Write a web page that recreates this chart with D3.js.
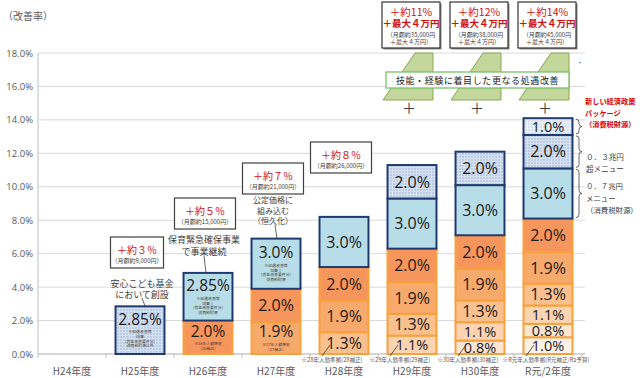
<!DOCTYPE html>
<html><head><meta charset="utf-8">
<script src="https://cdn.jsdelivr.net/npm/d3@7"></script>
<style>body{margin:0;background:#fff}svg{display:block}</style></head>
<body><svg id="c" width="640" height="378"></svg>
<script>
// ---------- data ----------
const categories = ["H24年度","H25年度","H26年度","H27年度","H28年度","H29年度","H30年度","R元/2年度"];
const rR     = [0,0,0,0,0,0,0,1.0];
const r30    = [0,0,0,0,0,0,0.8,0.8];
const r29    = [0,0,0,0,0,1.1,1.1,1.1];
const r28    = [0,0,0,0,1.3,1.3,1.3,1.3];
const r27    = [0,0,0,1.9,1.9,1.9,1.9,1.9];
const r26    = [0,0,2.0,2.0,2.0,2.0,2.0,2.0];
const kikin  = [0,2.85,0,0,0,0,0,0];
const kasan1 = [0,0,2.85,3.0,3.0,3.0,3.0,3.0];
const menu03 = [0,0,0,0,0,2.0,2.0,2.0];
const pkg    = [0,0,0,0,0,0,0,1.0];
const yTicks = [0,2,4,6,8,10,12,14,16,18];
const incLabels = ["","＋約３％","＋約５％","＋約７％","＋約８％","＋約11%","＋約12%","＋約14%"];
const monthly   = ["","（月額約9,000円）","（月額約15,000円）","（月額約21,000円）","（月額約26,000円）","（月額約35,000円","（月額約38,000円","（月額約45,000円"];
const extraLabel = "＋最大４万円";
const extraSub = "＋最大４万円）";
const bottomNotes = {"H28年度":"※28年人勤準拠(28補正)","H29年度":"※29年人勤準拠(29補正)","H30年度":"※30年人勤準拠(30補正)","R元/2年度":"※R元年人勤準拠(R元補正/R2予算)"};

const seriesDefs = [
  {key:"rR", vals:rR, fill:"#FEF2E8", kind:"o"},
  {key:"r30", vals:r30, fill:"#FDE5D3", kind:"o"},
  {key:"r29", vals:r29, fill:"#FCD4B2", kind:"o"},
  {key:"r28", vals:r28, fill:"#FAC08E", kind:"o"},
  {key:"r27", vals:r27, fill:"#F8A96C", kind:"o"},
  {key:"r26", vals:r26, fill:"#F7965C", kind:"o"},
  {key:"kikin", vals:kikin, fill:"url(#dotsK)", kind:"b"},
  {key:"kasan1", vals:kasan1, fill:"#B7DDE8", kind:"b"},
  {key:"menu03", vals:menu03, fill:"url(#dots2)", kind:"b"},
  {key:"pkg", vals:pkg, fill:"url(#dots1)", kind:"b"}
];
const notes = {
  "kikin|H25年度":["※処遇改善等","加算","（賃金改善要件分）","消費税財源以外"],
  "kasan1|H26年度":["※処遇改善等","加算Ⅰ","（賃金改善要件分）","消費税財源"],
  "kasan1|H27年度":["※処遇改善等","加算Ⅰ","（賃金改善要件分）","消費税財源"],
  "r26|H26年度":["※26年人勤準拠","（26補正）"],
  "r27|H27年度":["※27年人勤準拠","（27補正）"]
};

// ---------- setup ----------
const JP = "'Noto Sans CJK JP','Noto Sans',sans-serif";
const NUM = "'Open Sans','Liberation Sans',sans-serif";
const svg = d3.select("#c");
const defs = svg.append("defs");
function dotPat(id, base, dot){
  const p = defs.append("pattern").attr("id",id).attr("width",3).attr("height",3).attr("patternUnits","userSpaceOnUse");
  p.append("rect").attr("width",3).attr("height",3).attr("fill",base);
  p.append("circle").attr("cx",1).attr("cy",1).attr("r",0.65).attr("fill",dot);
}
dotPat("dotsK","#D3E2F3","#8DA7D2");
dotPat("dots2","#D6E2F1","#8AA3CF");
dotPat("dots1","#EFF4FB","#A9BEDF");

const x = d3.scaleBand().domain(categories).range([38,582]).paddingInner(0.28).paddingOuter(0.14);
const y = d3.scaleLinear().domain([0,18]).range([354,53]);
const cx = c => x(c) + x.bandwidth()/2;

// gridlines
svg.append("g").selectAll("line").data(yTicks).join("line")
  .attr("x1",38).attr("x2",585).attr("y1",d=>y(d)).attr("y2",d=>y(d))
  .attr("stroke","#D9D9D9").attr("stroke-width",1);
// axes
svg.append("line").attr("x1",38).attr("x2",38).attr("y1",y(18)).attr("y2",y(0)).attr("stroke","#BFBFBF");
svg.append("line").attr("x1",38).attr("x2",585).attr("y1",y(0)).attr("y2",y(0)).attr("stroke","#BFBFBF");
svg.append("g").selectAll("text").data(yTicks).join("text")
  .attr("x",33).attr("y",d=>y(d)+3.5).attr("text-anchor","end")
  .attr("font-family",NUM).attr("font-size",9.5).attr("fill","#595959")
  .text(d=>d3.format(".1f")(d)+"%");
const step = x.step();
svg.append("g").selectAll("line").data(d3.range(categories.length+1)).join("line")
  .attr("x1",i=>38+i*step).attr("x2",i=>38+i*step).attr("y1",y(0)).attr("y2",y(0)+4)
  .attr("stroke","#BFBFBF");
svg.append("g").selectAll("text").data(categories).join("text")
  .attr("x",d=>cx(d)).attr("y",375).attr("text-anchor","middle")
  .attr("font-family",JP).attr("font-size",10).attr("fill","#595959").text(d=>d);
svg.append("text").attr("x",3).attr("y",20).attr("font-family",JP).attr("font-size",10).attr("fill","#595959").text("（改善率）");

// ---------- stacked bars ----------
const table = categories.map((c,i)=>{const o={cat:c}; seriesDefs.forEach(s=>o[s.key]=s.vals[i]); return o;});
const stack = d3.stack().keys(seriesDefs.map(s=>s.key))(table);
const gBars = svg.append("g");
const drawOrder = [...stack.filter((s,i)=>seriesDefs[i].kind==="o"), ...stack.filter((s,i)=>seriesDefs[i].kind==="b")];
drawOrder.forEach(layer=>{
  const def = seriesDefs.find(s=>s.key===layer.key);
  gBars.append("g").selectAll("rect").data(layer.filter(d=>d[1]-d[0]>0)).join("rect")
    .attr("x",d=>x(d.data.cat)).attr("width",x.bandwidth())
    .attr("y",d=>y(d[1])).attr("height",d=>y(d[0])-y(d[1]))
    .attr("fill",def.fill)
    .attr("stroke",def.kind==="o"?"#F7A13C":"#1F3A6E").attr("stroke-width",2);
});
// segment labels
stack.forEach(layer=>{
  layer.forEach(d=>{
    const v = d.data[layer.key]; if(v<=0) return;
    const c = d.data.cat, top = y(d[1]), h = y(d[0])-y(d[1]);
    const nt = notes[layer.key+"|"+c];
    const fs = v>=1.3?16:14.5;
    const lbl = (v===2.85?"2.85":v.toFixed(1))+"%";
    if(nt){
      const block = 17 + nt.length*4.7;
      const base = top + (h-block)/2 + 12.5;
      gBars.append("text").attr("x",cx(c)).attr("y",base).attr("text-anchor","middle")
        .attr("font-family",NUM).attr("font-size",15.5).attr("fill","#1a1a1a").text(lbl);
      nt.forEach((t,k)=>gBars.append("text").attr("x",cx(c)).attr("y",base+8.5+k*4.7).attr("text-anchor","middle")
        .attr("font-family",JP).attr("font-size",3.9).attr("fill","#404040").text(t));
    } else {
      gBars.append("text").attr("x",cx(c)).attr("y",top+h/2+fs*0.36).attr("text-anchor","middle")
        .attr("font-family",NUM).attr("font-size",fs).attr("fill","#1a1a1a").text(lbl);
    }
  });
});

// bottom notes with leaders
const gN = svg.append("g");
Object.entries(bottomNotes).forEach(([c,t])=>{
  const lc = cx(c) - (c==="R元/2年度"?2:12);
  gN.append("text").attr("x",lc).attr("y",362).attr("text-anchor","middle")
    .attr("font-family",JP).attr("font-size",5.6).attr("fill","#595959").text(t);
  gN.append("line").attr("x1",cx(c)-22).attr("y1",356).attr("x2",cx(c)-14).attr("y2",345)
    .attr("stroke","#333").attr("stroke-width",0.8);
});

// ---------- increment boxes ----------
const gA = svg.append("g");
const lowBoxTop = {"H25年度":237,"H26年度":198,"H27年度":163,"H28年度":142};
Object.entries(lowBoxTop).forEach(([c,t])=>{
  const i = categories.indexOf(c), bx = cx(c)-3, w = c==="H25年度"?53:61;
  gA.append("rect").attr("x",bx-w/2).attr("y",t).attr("width",w).attr("height",31)
    .attr("fill","#fff").attr("stroke","#404040").attr("stroke-width",1.2);
  gA.append("text").attr("x",bx).attr("y",t+17).attr("text-anchor","middle").attr("font-family",JP)
    .attr("font-size",10).attr("fill","#D01010").text(incLabels[i]);
  gA.append("text").attr("x",bx).attr("y",t+26).attr("text-anchor","middle").attr("font-family",JP)
    .attr("font-size",6).attr("fill","#404040").text(monthly[i]);
});
["H29年度","H30年度","R元/2年度"].forEach(c=>{
  const i = categories.indexOf(c), bx = cx(c)-1, w = 58;
  gA.append("rect").attr("x",bx-w/2+1.5).attr("y",3.5).attr("width",w).attr("height",46).attr("fill","#8c8c8c");
  gA.append("rect").attr("x",bx-w/2).attr("y",2).attr("width",w).attr("height",46)
    .attr("fill","#fff").attr("stroke","#333").attr("stroke-width",1.2);
  gA.append("text").attr("x",bx).attr("y",15.5).attr("text-anchor","middle").attr("font-family",JP)
    .attr("font-size",10.5).attr("fill","#D01010").text(incLabels[i]);
  gA.append("text").attr("x",bx).attr("y",27).attr("text-anchor","middle").attr("font-family",JP)
    .attr("font-size",9.5).attr("font-weight","bold").attr("fill","#D01010").text(extraLabel);
  gA.append("text").attr("x",bx).attr("y",36.5).attr("text-anchor","middle").attr("font-family",JP)
    .attr("font-size",6).attr("fill","#404040").text(monthly[i]);
  gA.append("text").attr("x",bx).attr("y",44.2).attr("text-anchor","middle").attr("font-family",JP)
    .attr("font-size",6).attr("fill","#404040").text(extraSub);
  const c0 = cx(c);
  gA.append("path").attr("d",`M${c0+3},53 L${c0+21},53 L${c0+21},100 L${c0-29},100 Z`)
    .attr("fill","#C3D69B").attr("stroke","#8AA650").attr("stroke-width",1);
  gA.append("text").attr("x",c0-3).attr("y",113).attr("text-anchor","middle").attr("font-family",JP)
    .attr("font-size",14).attr("fill","#404040").text("＋");
});
gA.append("rect").attr("x",386).attr("y",72).attr("width",183).attr("height",16)
  .attr("fill","#fff").attr("stroke","#6FBF60").attr("stroke-width",1.2);
gA.append("text").attr("x",477.5).attr("y",84).attr("text-anchor","middle").attr("font-family",JP)
  .attr("font-size",9).attr("letter-spacing",0.6).attr("fill","#1a1a1a").text("技能・経験に着目した更なる処遇改善");
gA.append("text").attr("x",577).attr("y",65).attr("font-family",JP).attr("font-size",6).attr("fill","#404040").text("・");

function lines(arr, xx, y0, dy, fs, col){
  arr.forEach((t,k)=>gA.append("text").attr("x",xx).attr("y",y0+k*dy).attr("text-anchor","middle")
    .attr("font-family",JP).attr("font-size",fs).attr("fill",col).text(t));
}
lines(["安心こども基金","において創設"], cx("H25年度")+2, 287, 11, 9, "#404040");
gA.append("line").attr("x1",cx("H25年度")+2).attr("y1",298).attr("x2",cx("H25年度")+5).attr("y2",306).attr("stroke","#404040").attr("stroke-width",0.8);
lines(["保育緊急確保事業","で事業継続"], cx("H26年度")-4, 243, 12, 9, "#404040");
gA.append("line").attr("x1",cx("H26年度")-4).attr("y1",256).attr("x2",cx("H26年度")-2).attr("y2",273).attr("stroke","#404040").attr("stroke-width",0.8);
lines(["公定価格に","組み込む","（恒久化）"], cx("H27年度")-3, 203, 10.5, 8, "#404040");
gA.append("line").attr("x1",cx("H27年度")-1).attr("y1",225).attr("x2",cx("H27年度")+1).attr("y2",239).attr("stroke","#404040").attr("stroke-width",0.8);

// ---------- braces & right texts ----------
function brace(x0, y0, y1){
  const w = 3, r = 3, ym = (y0+y1)/2;
  return `M${x0},${y0} Q${x0+w},${y0} ${x0+w},${y0+r} L${x0+w},${ym-r} Q${x0+w},${ym} ${x0+2*w},${ym} Q${x0+w},${ym} ${x0+w},${ym+r} L${x0+w},${y1-r} Q${x0+w},${y1} ${x0},${y1}`;
}
const ri = categories.indexOf("R元/2年度");
["pkg","menu03","kasan1"].forEach(k=>{
  const d = stack.find(l=>l.key===k)[ri];
  svg.append("path").attr("d",brace(576,y(d[1])+1,y(d[0])-1)).attr("fill","none").attr("stroke","#404040").attr("stroke-width",0.8);
});
function rlines(arr, xx, y0, dy, fs, col, fw){
  arr.forEach((t,k)=>svg.append("text").attr("x",xx).attr("y",y0+k*dy)
    .attr("font-family",JP).attr("font-size",fs).attr("font-weight",fw||"normal").attr("fill",col).text(t));
}
rlines(["新しい経済政策","パッケージ","（消費税財源）"], 585, 104, 11.5, 7.2, "#E00000", "bold");
rlines(["０．３兆円","超メニュー"], 586, 160, 12, 7.6, "#404040");
rlines(["０．７兆円","メニュー","（消費税財源）"], 586, 189, 12, 7.4, "#404040");
</script></body></html>
